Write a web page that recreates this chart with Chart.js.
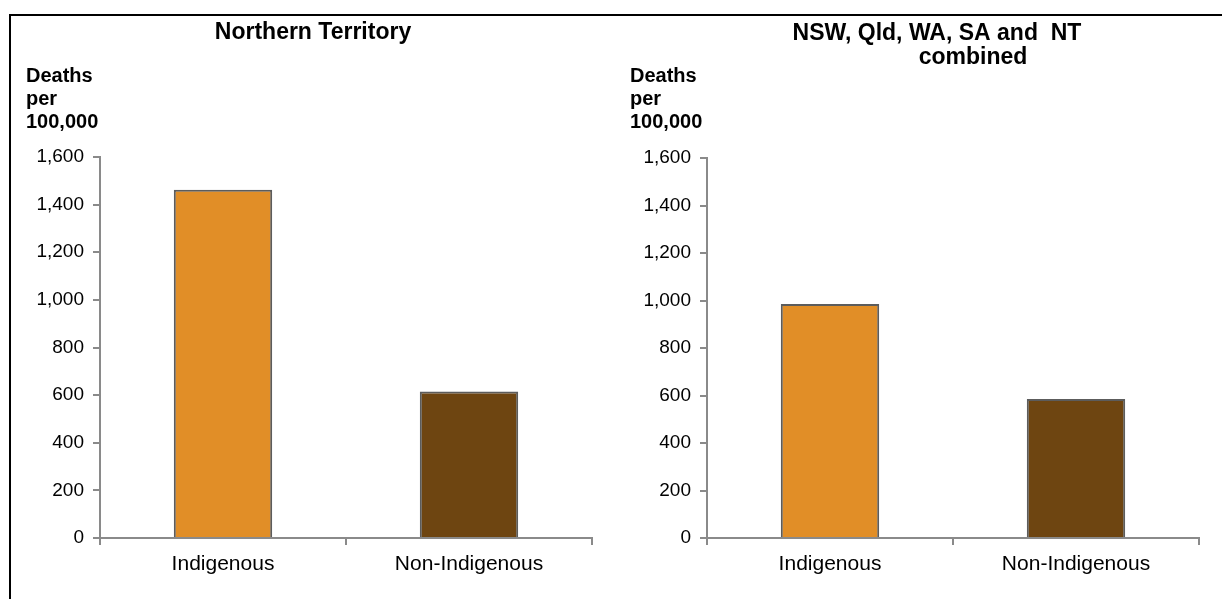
<!DOCTYPE html>
<html>
<head>
<meta charset="utf-8">
<script src="https://cdn.jsdelivr.net/npm/chart.js@4.4.1/dist/chart.umd.min.js"></script>
<style>
  html, body { margin: 0; padding: 0; background: #fff; }
  body { width: 1222px; height: 599px; position: relative; overflow: hidden; }
  #frame { position: absolute; left: 9px; top: 14px; right: -10px; bottom: -10px;
           border-left: 2px solid #000; border-top: 2px solid #000; }
  .box { position: absolute; top: 0; width: 611px; height: 599px; }
  #c1box { left: 0; }
  #c2box { left: 611px; }
</style>
</head>
<body>
<div id="frame"></div>
<div class="box" id="c1box"><canvas id="c1"></canvas></div>
<div class="box" id="c2box"><canvas id="c2"></canvas></div>
<script>
// ---- data ----
const categories = ["Indigenous", "Non-Indigenous"];
const ntValues = [1462, 615];
const combinedValues = [985, 585];
const yTicks = [0, 200, 400, 600, 800, 1000, 1200, 1400, 1600];
const ntTitle = ["Northern Territory"];
const combinedTitle = ["NSW, Qld, WA, SA and  NT", "combined"];
const yLabel = ["Deaths", "per", "100,000"];

// ---- styles ----
const FONT = "'Liberation Sans', Arial, sans-serif";
const barColors = ["#E18E27", "#6E4511"];
const axisColor = "#8a8a8a";

const textPlugin = {
  id: 'textPlugin',
  afterDraw(chart, args, opts) {
    const ctx = chart.ctx;
    ctx.save();
    ctx.fillStyle = '#000';
    ctx.textBaseline = 'middle';
    ctx.font = "bold 23px " + FONT;
    ctx.textAlign = 'center';
    opts.title.forEach((t, i) => ctx.fillText(t, opts.titleX[i], opts.titleY[i]));
    ctx.font = "bold 20px " + FONT;
    ctx.textAlign = 'left';
    yLabel.forEach((t, i) => ctx.fillText(t, opts.labelX, opts.labelY[i]));
    ctx.restore();
  }
};

function makeChart(id, values, title, titleX, titleY, labelX, pad, yW) {
  return new Chart(document.getElementById(id), {
    type: 'bar',
    data: {
      labels: categories,
      datasets: [{
        data: values,
        backgroundColor: barColors,
        borderColor: "#5c5c5c",
        borderWidth: 2,
        categoryPercentage: 1.0,
        barPercentage: 0.4
      }]
    },
    options: {
      responsive: false,
      animation: false,
      devicePixelRatio: 1,
      layout: { padding: pad },
      plugins: {
        legend: { display: false },
        tooltip: { enabled: false },
        title: { display: false },
        textPlugin: { title, titleX, titleY, labelX, labelY: [76, 99, 122] }
      },
      scales: {
        x: {
          grid: { display: true, drawOnChartArea: false, drawTicks: true, tickLength: 7, color: axisColor, lineWidth: 2, offset: true },
          border: { display: true, color: axisColor, width: 2 },
          ticks: { color: '#000', font: { family: FONT, size: 21 }, padding: 7 },
          afterFit: s => { s.height = 61; }
        },
        y: {
          min: 0, max: 1600,
          afterBuildTicks: s => { s.ticks = yTicks.map(v => ({ value: v })); },
          grid: { display: true, drawOnChartArea: false, drawTicks: true, tickLength: 7, color: axisColor, lineWidth: 2 },
          border: { display: true, color: axisColor, width: 2 },
          ticks: { color: '#000', font: { family: FONT, size: 19 }, padding: 9,
                   callback: v => v.toLocaleString('en-US') },
          afterFit: s => { s.width = yW; }
        }
      }
    },
    plugins: [textPlugin]
  });
}

document.getElementById('c1').width = 611; document.getElementById('c1').height = 599;
document.getElementById('c2').width = 611; document.getElementById('c2').height = 599;

makeChart('c1', ntValues, ntTitle, [313], [33], 26,
          { top: 157, right: 19, left: 0, bottom: 0 }, 100);
makeChart('c2', combinedValues, combinedTitle, [326, 362], [34, 58], 19,
          { top: 158, right: 23, left: 0, bottom: 0 }, 96);
</script>
</body>
</html>
